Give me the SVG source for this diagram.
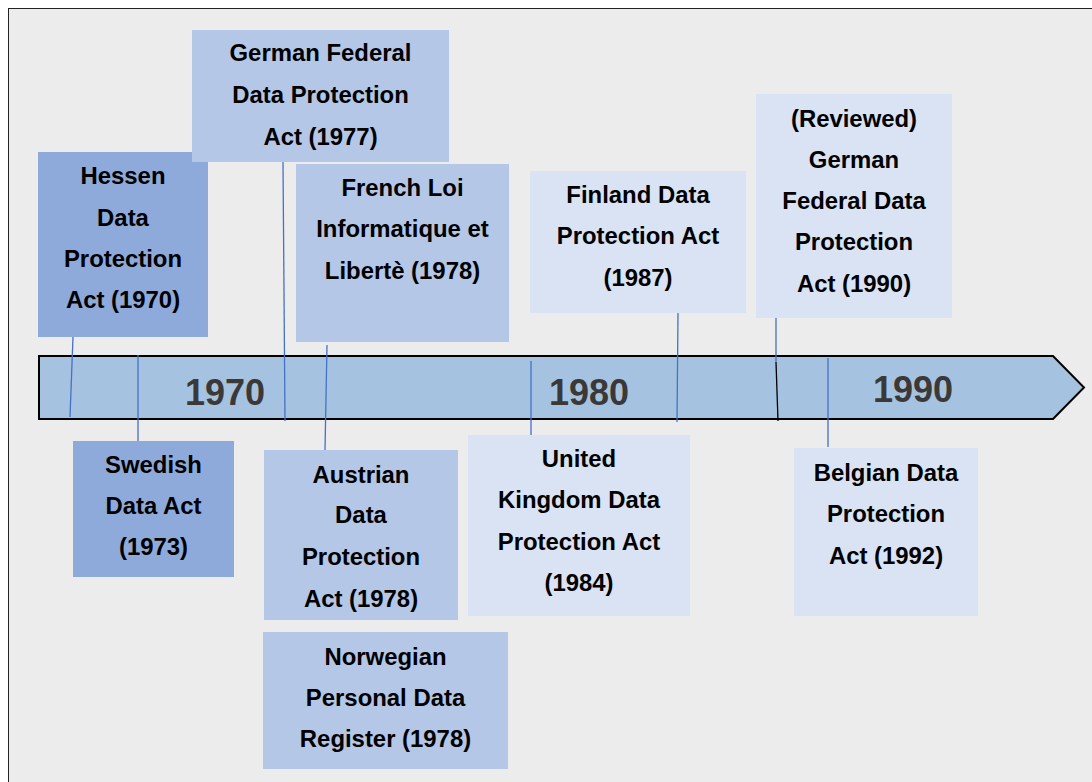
<svg xmlns="http://www.w3.org/2000/svg" width="1092" height="782" viewBox="0 0 1092 782">
  <style>
    .t { font-family: "Liberation Sans", Arial, sans-serif; font-weight: bold; font-size: 23.9px; fill: #000; text-anchor: middle; }
    .yr { font-family: "Liberation Sans", Arial, sans-serif; font-weight: bold; font-size: 36px; fill: #3b3838; text-anchor: middle; }
    .dark { fill: #8eaadb; }
    .mid { fill: #b4c7e7; }
    .light { fill: #dae3f3; }
    .lead { stroke: #4472c4; stroke-width: 1.3; fill: none; }
  </style>

  <!-- canvas -->
  <rect x="0" y="0" width="1092" height="782" fill="#ffffff"/>
  <rect x="8.5" y="8.5" width="1100" height="800" fill="#ececec" stroke="#222222" stroke-width="1"/>

  <!-- timeline arrow -->
  <g id="timeline">
    <path d="M39,356 L1053,356 L1084,387.5 L1053,419 L39,419 Z" fill="#a5c3e1" stroke="#000000" stroke-width="2" stroke-linejoin="miter"/>
    <text class="yr" x="225" y="405">1970</text>
    <text class="yr" x="589" y="405">1980</text>
    <text class="yr" x="913" y="402">1990</text>
  </g>

  <!-- leader lines -->
  <g id="connectors">
    <line class="lead" x1="73" y1="337" x2="70" y2="417"/>
    <line class="lead" x1="138" y1="355" x2="138" y2="442"/>
    <line class="lead" x1="283" y1="162" x2="285" y2="421"/>
    <line class="lead" x1="327" y1="345" x2="325" y2="450"/>
    <line class="lead" x1="531" y1="361" x2="531" y2="436"/>
    <line class="lead" x1="678" y1="313" x2="677" y2="422"/>
    <line class="lead" x1="776" y1="318" x2="776" y2="362"/>
    <line x1="776" y1="362" x2="778" y2="421" stroke="#000000" stroke-width="1.3"/>
    <line class="lead" x1="828" y1="358" x2="828" y2="447"/>
  </g>

  <g id="hessen">
    <rect class="dark" x="38" y="152" width="170" height="185"/>
    <text class="t" x="123" y="184">Hessen</text>
    <text class="t" x="123" y="226">Data</text>
    <text class="t" x="123" y="267">Protection</text>
    <text class="t" x="123" y="308">Act (1970)</text>
  </g>

  <g id="german-1977">
    <rect class="mid" x="192" y="30" width="257" height="132"/>
    <text class="t" x="320.5" y="61">German Federal</text>
    <text class="t" x="320.5" y="103">Data Protection</text>
    <text class="t" x="320.5" y="145">Act (1977)</text>
  </g>

  <g id="french-1978">
    <rect class="mid" x="296" y="164" width="213" height="178"/>
    <text class="t" x="402.5" y="196">French Loi</text>
    <text class="t" x="402.5" y="237">Informatique et</text>
    <text class="t" x="402.5" y="279">Libertè (1978)</text>
  </g>

  <g id="finland-1987">
    <rect class="light" x="530" y="171" width="216" height="142"/>
    <text class="t" x="638" y="203">Finland Data</text>
    <text class="t" x="638" y="244">Protection Act</text>
    <text class="t" x="638" y="286">(1987)</text>
  </g>

  <g id="german-1990">
    <rect class="light" x="756" y="94" width="196" height="224"/>
    <text class="t" x="854" y="127">(Reviewed)</text>
    <text class="t" x="854" y="168">German</text>
    <text class="t" x="854" y="209">Federal Data</text>
    <text class="t" x="854" y="250">Protection</text>
    <text class="t" x="854" y="292">Act (1990)</text>
  </g>

  <g id="swedish-1973">
    <rect class="dark" x="73" y="441" width="161" height="136"/>
    <text class="t" x="153.5" y="473">Swedish</text>
    <text class="t" x="153.5" y="514">Data Act</text>
    <text class="t" x="153.5" y="555">(1973)</text>
  </g>

  <g id="austrian-1978">
    <rect class="mid" x="264" y="450" width="194" height="170"/>
    <text class="t" x="361" y="483">Austrian</text>
    <text class="t" x="361" y="523">Data</text>
    <text class="t" x="361" y="565">Protection</text>
    <text class="t" x="361" y="607">Act (1978)</text>
  </g>

  <g id="norwegian-1978">
    <rect class="mid" x="263" y="632" width="245" height="137"/>
    <text class="t" x="385.5" y="665">Norwegian</text>
    <text class="t" x="385.5" y="706">Personal Data</text>
    <text class="t" x="385.5" y="747">Register (1978)</text>
  </g>

  <g id="uk-1984">
    <rect class="light" x="468" y="435" width="222" height="181"/>
    <text class="t" x="579" y="467">United</text>
    <text class="t" x="579" y="508">Kingdom Data</text>
    <text class="t" x="579" y="550">Protection Act</text>
    <text class="t" x="579" y="591">(1984)</text>
  </g>

  <g id="belgian-1992">
    <rect class="light" x="794" y="448" width="184" height="168"/>
    <text class="t" x="886" y="481">Belgian Data</text>
    <text class="t" x="886" y="522">Protection</text>
    <text class="t" x="886" y="564">Act (1992)</text>
  </g>
</svg>
